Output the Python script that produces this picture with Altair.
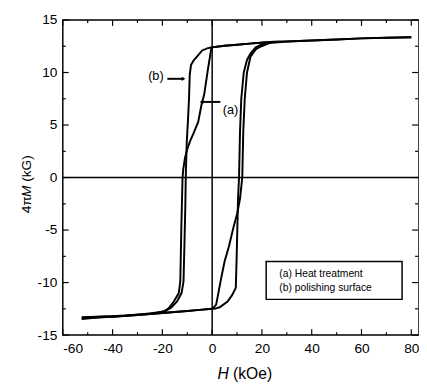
import altair as alt
import pandas as pd

# Loop (a): heat treatment
H_a = [80, 70, 60, 50, 40, 30, 23, 15, 10, 5, 0,
       -0.4, -1.7, -3.2, -4.3, -5.6, -7.5, -8.9, -10.0, -10.9, -11.6, -11.9, -12.1, -12.4, -12.6, -12.8,
       -13.4, -15.4, -17.5, -19.5, -25, -35, -45, -52,
       -52, -45, -40, -30, -20, -10, -5, 0,
       0.5, 1.6, 2.5, 3.6, 5.0, 6.8, 8.5, 10.1, 11.2, 12.1, 12.5, 13.1, 14.0, 15.4, 17.5, 19.3, 23,
       30, 40, 50, 60, 70, 80]
M_a = [13.35, 13.3, 13.25, 13.15, 13.05, 12.95, 12.9, 12.75, 12.65, 12.55, 12.4,
       12.2, 10.3, 7.9, 6.9, 5.3, 4.2, 3.45, 2.7, 1.9, 0.8, 0.0, -2.0, -5.0, -7.5, -9.9,
       -11.0, -11.8, -12.45, -12.75, -12.95, -13.15, -13.25, -13.35,
       -13.45, -13.3, -13.25, -13.1, -12.9, -12.7, -12.6, -12.5,
       -12.4, -12.1, -11.0, -9.6, -8.0, -6.5, -4.8, -3.4, -2.0, 0.0, 4.4, 7.5, 10.0, 11.5, 12.2, 12.45, 12.8,
       12.95, 13.05, 13.15, 13.25, 13.3, 13.35]

# Loop (b): polishing surface
H_b = [80, 70, 60, 50, 40, 30, 23, 15, 10, 5, 0,
       -2.0, -4.0, -6.2, -7.6, -8.5, -9.0, -9.3, -9.7, -10.2, -10.5, -10.6, -10.8, -11.1, -11.5,
       -12.3, -14.1, -16.5, -18.7, -22, -30, -40, -52,
       -52, -45, -40, -30, -20, -10, -5, 0,
       0.9, 3.0, 6.2, 8.0, 9.5, 9.8, 10.1, 10.4, 10.8, 11.2, 11.7, 12.7, 14.0, 15.4, 17.5, 19.3, 23,
       30, 40, 50, 60, 70, 80]
M_b = [13.35, 13.3, 13.25, 13.15, 13.05, 12.95, 12.9, 12.75, 12.65, 12.55, 12.4,
       12.3, 12.1, 11.5, 11.1, 10.7, 9.8, 7.5, 5.5, 3.4, 1.0, 0.0, -3.0, -6.0, -9.9,
       -11.0, -11.8, -12.4, -12.7, -12.9, -13.05, -13.2, -13.3,
       -13.4, -13.3, -13.25, -13.1, -12.9, -12.7, -12.6, -12.5,
       -12.5, -12.35, -11.8, -11.2, -10.5, -8.0, -5.0, -2.0, 0.0, 4.4, 7.5, 10.0, 11.2, 11.8, 12.4, 12.6, 12.9,
       12.95, 13.05, 13.15, 13.25, 13.3, 13.35]

x_ticks = [-60, -40, -20, 0, 20, 40, 60, 80]
x_minor = [-50, -30, -10, 10, 30, 50, 70]
y_ticks = [-15, -10, -5, 0, 5, 10, 15]
y_minor = [-12.5, -7.5, -2.5, 2.5, 7.5, 12.5]

# annotations (data coordinates)
label_text = ["(b)", "(a)"]
label_H = [-22.6, 7.4]
label_M = [9.7, 6.4]
pointer_H = [-18.0, -4.3]
pointer_H2 = [-11.5, 3.3]
pointer_M = [9.4, 7.2]
head_H = [-11.5, -4.3]
head_M = [9.4, 7.2]
head_shape = ["triangle-right", "triangle-left"]
legend_lines = ["(a) Heat treatment", "(b) polishing surface"]
legend_box = dict(H1=21.7, H2=76.3, M1=-8.0, M2=-11.6)
legend_text_H = 27.0
legend_text_M = [-9.2, -10.5]

# axis title pieces (text, italic?)
x_title = [("H", "italic"), ("(kOe)", "normal")]
y_title = [("4π", "normal"), ("M", "italic"), ("(kG)", "normal")]

W, HT = 364, 322
FONT = "Liberation Sans"
xs = alt.Scale(domain=[-60, 83.1], nice=False, zero=False)
ys = alt.Scale(domain=[-15, 15], nice=False, zero=False)

df = pd.DataFrame({
    "H": H_a + H_b,
    "M": M_a + M_b,
    "loop": ["a"] * len(H_a) + ["b"] * len(H_b),
    "i": list(range(len(H_a))) + list(range(len(H_b))),
})

hy = "datum.value < 0 ? '-' + abs(datum.value) : '' + datum.value"
xaxis = alt.Axis(values=x_ticks, title=None, ticks=False, tickSize=0, domain=False,
                 grid=False, labelFontSize=14, labelPadding=7, labelColor="black",
                 labelFont=FONT, labelExpr=hy)
yaxis = alt.Axis(values=y_ticks, title=None, ticks=False, tickSize=0, domain=False,
                 grid=False, labelFontSize=14, labelPadding=6, labelColor="black",
                 labelFont=FONT, labelExpr=hy)

curves = alt.Chart(df).mark_line(color="black", strokeWidth=2, clip=True).encode(
    x=alt.X("H:Q", scale=xs, axis=xaxis),
    y=alt.Y("M:Q", scale=ys, axis=yaxis),
    detail="loop:N",
    order="i:Q",
)

zero_v = alt.Chart(pd.DataFrame({"v": [0]})).mark_rule(color="black", strokeWidth=1.5).encode(
    x=alt.X("v:Q", scale=xs))
zero_h = alt.Chart(pd.DataFrame({"v": [0]})).mark_rule(color="black", strokeWidth=1.5).encode(
    y=alt.Y("v:Q", scale=ys))

def xticks(vals, L):
    d = pd.DataFrame({"v": vals})
    bot = alt.Chart(d).mark_rule(color="black", strokeWidth=1.2).encode(
        x=alt.X("v:Q", scale=xs), y=alt.value(HT), y2=alt.value(HT - L))
    top = alt.Chart(d).mark_rule(color="black", strokeWidth=1.2).encode(
        x=alt.X("v:Q", scale=xs), y=alt.value(0), y2=alt.value(L))
    return [bot, top]

def yticks(vals, L):
    d = pd.DataFrame({"v": vals})
    left = alt.Chart(d).mark_rule(color="black", strokeWidth=1.2).encode(
        y=alt.Y("v:Q", scale=ys), x=alt.value(0), x2=alt.value(L))
    right = alt.Chart(d).mark_rule(color="black", strokeWidth=1.2).encode(
        y=alt.Y("v:Q", scale=ys), x=alt.value(W - 1), x2=alt.value(W - 1 - L))
    return [left, right]

tick_layers = xticks(x_ticks, 6) + xticks(x_minor, 3) + yticks(y_ticks, 6) + yticks(y_minor, 3)

ann = pd.DataFrame({"t": label_text, "H": label_H, "M": label_M})
ann_text = alt.Chart(ann).mark_text(font=FONT, fontSize=13, color="black", align="center",
                                    baseline="middle").encode(
    x=alt.X("H:Q", scale=xs), y=alt.Y("M:Q", scale=ys), text="t:N")

ptr = pd.DataFrame({"H": pointer_H, "H2": pointer_H2, "M": pointer_M})
ptr_lines = alt.Chart(ptr).mark_rule(color="black", strokeWidth=2).encode(
    x=alt.X("H:Q", scale=xs), x2="H2:Q", y=alt.Y("M:Q", scale=ys))

heads = pd.DataFrame({"H": head_H, "M": head_M, "s": head_shape})
head_pts = alt.Chart(heads).mark_point(filled=True, color="black", size=18, opacity=1).encode(
    x=alt.X("H:Q", scale=xs), y=alt.Y("M:Q", scale=ys),
    shape=alt.Shape("s:N", scale=None, legend=None))

box = pd.DataFrame([legend_box])
box_rect = alt.Chart(box).mark_rect(fill="white", stroke="black", strokeWidth=1.5).encode(
    x=alt.X("H1:Q", scale=xs), x2="H2:Q", y=alt.Y("M1:Q", scale=ys), y2="M2:Q")

leg = pd.DataFrame({"t": legend_lines, "H": [legend_text_H] * 2, "M": legend_text_M})
leg_text = alt.Chart(leg).mark_text(font=FONT, fontSize=10.5, color="black", align="left",
                                    baseline="middle").encode(
    x=alt.X("H:Q", scale=xs), y=alt.Y("M:Q", scale=ys), text="t:N")

# axis titles, built from pieces so the symbols can be italic
title_layers = []
xpos = 158.0
xw = {"H": 16.0, "(kOe)": 40.0}
for t, st in x_title:
    title_layers.append(
        alt.Chart(pd.DataFrame({"t": [t]})).mark_text(
            font=FONT, fontSize=16, fontStyle=st, color="black", align="left",
            baseline="middle").encode(x=alt.value(xpos), y=alt.value(HT + 40), text="t:N"))
    xpos += xw[t]
ypos = 197.5
yw = {"4π": 16.5, "M": 15.6, "(kG)": 27.2}
for t, st in y_title:
    title_layers.append(
        alt.Chart(pd.DataFrame({"t": [t]})).mark_text(
            font=FONT, fontSize=14, fontStyle=st, color="black", align="left",
            baseline="middle", angle=270).encode(x=alt.value(-36.5), y=alt.value(ypos), text="t:N"))
    ypos -= yw[t]

chart = alt.layer(
    zero_v, zero_h, curves, *tick_layers, ann_text, ptr_lines, head_pts, box_rect, leg_text,
    *title_layers
).properties(
    width=W, height=HT,
    autosize=alt.AutoSizeParams(type="none"),
    padding={"left": 56, "top": 8, "right": 0, "bottom": 59},
    background="white",
).configure_view(stroke="black", strokeWidth=1.5)

chart.save("out.html", embed_options={"renderer": "svg", "actions": False})
